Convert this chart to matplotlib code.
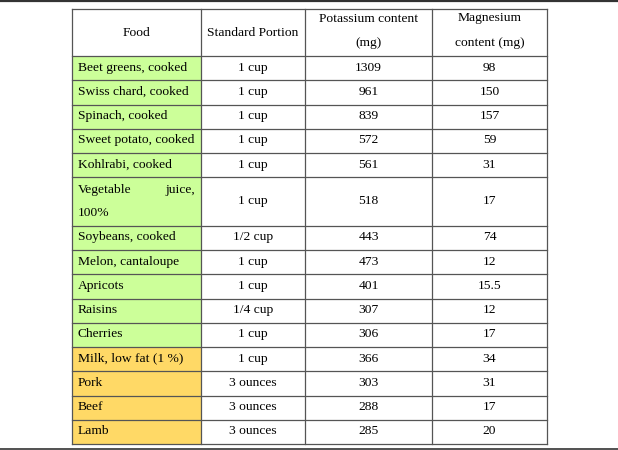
import matplotlib.pyplot as plt
from matplotlib.patches import Rectangle

plt.rcParams['font.family'] = ['Liberation Serif', 'DejaVu Serif']

headers = [["Food"], ["Standard Portion"], ["Potassium content", "(mg)"], ["Magnesium", "content (mg)"]]
foods = ["Beet greens, cooked", "Swiss chard, cooked", "Spinach, cooked", "Sweet potato, cooked",
         "Kohlrabi, cooked", "Vegetable juice, 100%", "Soybeans, cooked", "Melon, cantaloupe",
         "Apricots", "Raisins", "Cherries", "Milk, low fat (1 %)", "Pork", "Beef", "Lamb"]
portions = ["1 cup", "1 cup", "1 cup", "1 cup", "1 cup", "1 cup", "1/2 cup", "1 cup",
            "1 cup", "1/4 cup", "1 cup", "1 cup", "3 ounces", "3 ounces", "3 ounces"]
potassium = ["1309", "961", "839", "572", "561", "518", "443", "473", "401", "307", "306",
             "366", "303", "288", "285"]
magnesium = ["98", "150", "157", "59", "31", "17", "74", "12", "15.5", "12", "17",
             "34", "31", "17", "20"]
group = ["plant"] * 11 + ["animal"] * 4

fill = {"plant": "#ccff99", "animal": "#ffd966"}
col_x = [72, 201, 305, 432, 547]
top, header_h, row_h = 9, 47, 24.25
line_c = "#555555"
fs = 9.7

fig = plt.figure(figsize=(6.18, 4.5), dpi=100)
ax = fig.add_axes([0, 0, 1, 1])
ax.set_xlim(0, 618)
ax.set_ylim(450, 0)
ax.axis("off")

# top and bottom rules of the page
ax.plot([0, 618], [0.8, 0.8], color="#333333", lw=1.6)
ax.plot([0, 618], [448.5, 448.5], color="#333333", lw=1.2)

# header
for j, lines in enumerate(headers):
    cx = (col_x[j] + col_x[j + 1]) / 2
    if len(lines) == 1:
        ax.text(cx, top + header_h / 2, lines[0], ha="center", va="center", fontsize=fs)
    else:
        ax.text(cx, top + 9.5, lines[0], ha="center", va="center", fontsize=fs)
        ax.text(cx, top + 34, lines[1], ha="center", va="center", fontsize=fs)

y = top + header_h
row_lines = [top, y]
for i, food in enumerate(foods):
    h = row_h * 2 if food == "Vegetable juice, 100%" else row_h
    ax.add_patch(Rectangle((col_x[0], y), col_x[1] - col_x[0], h,
                           facecolor=fill[group[i]], edgecolor="none", zorder=0))
    cy = y + h / 2
    if h > row_h:
        # justified text in a two-line cell
        ax.text(col_x[0] + 6, cy - 12, "Vegetable", ha="left", va="center", fontsize=fs)
        ax.text(col_x[1] - 6, cy - 12, "juice,", ha="right", va="center", fontsize=fs)
        ax.text(col_x[0] + 6, cy + 12, "100%", ha="left", va="center", fontsize=fs)
    else:
        ax.text(col_x[0] + 6, cy - 0.5, food, ha="left", va="center", fontsize=fs)
    for j, val in enumerate([portions[i], potassium[i], magnesium[i]], start=1):
        ax.text((col_x[j] + col_x[j + 1]) / 2, cy - 0.5, val, ha="center", va="center", fontsize=fs)
    y += h
    row_lines.append(y)

for ly in row_lines:
    ax.plot([col_x[0], col_x[-1]], [ly, ly], color=line_c, lw=0.9)
for lx in col_x:
    ax.plot([lx, lx], [top, y], color=line_c, lw=0.9)

fig.savefig("out.png", dpi=100)
